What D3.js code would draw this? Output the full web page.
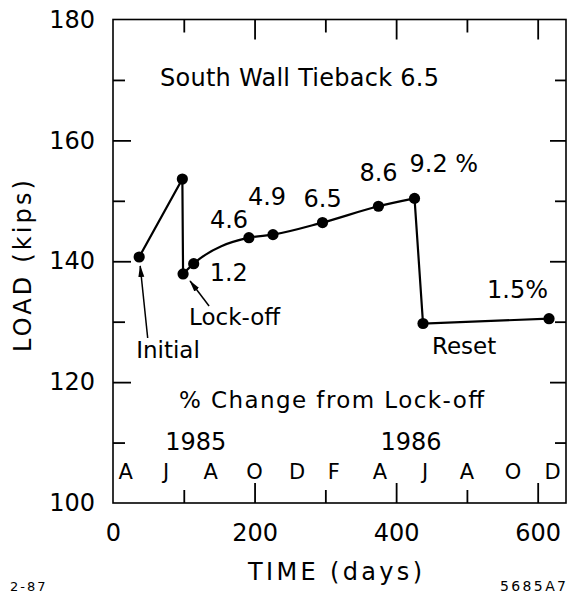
<!DOCTYPE html>
<html><head><meta charset="utf-8">
<script src="https://cdn.jsdelivr.net/npm/d3@7/dist/d3.min.js"></script>
<style>
body{margin:0;background:#fff}
svg{display:block;background:#fff}
text{font-family:"DejaVu Sans",sans-serif;fill:#000}
</style>
</head><body>
<svg id="c" width="571" height="594"></svg>
<script>
// ---- data ----
const days  = [37, 98, 99, 114, 192, 226, 296, 375, 426, 438, 616];
const loads = [140.7, 153.6, 137.9, 139.6, 143.9, 144.4, 146.4, 149.1, 150.4, 129.7, 130.5];
const pctLabels = ["1.2", "4.6", "4.9", "6.5", "8.6", "9.2 %", "1.5%"];
const pctPointIndex = [3, 4, 5, 6, 7, 8, 10];
const monthLabels = ["A","J","A","O","D","F","A","J","A","O","D"];
const monthDays = [18, 75, 138, 200, 260, 312, 377, 441, 500, 565, 621];
const yearLabels = ["1985", "1986"];
const yearDays = [117, 421];
const xTickValues = [0, 100, 200, 300, 400, 500, 600];
const xLabelValues = [0, 200, 400, 600];
const yTickValues = [110, 120, 130, 140, 150, 160, 170];
const yLabelValues = [100, 120, 140, 160, 180];

// ---- layout ----
const svg = d3.select("#c");
const x = d3.scaleLinear().domain([0, 640]).range([113, 566]);
const y = d3.scaleLinear().domain([100, 180]).range([503, 19.5]);
const L = x.range()[0], R = x.range()[1], T = y.range()[1], B = y.range()[0];

// frame
svg.append("rect").attr("x", L).attr("y", T).attr("width", R - L).attr("height", B - T)
  .attr("fill", "none").attr("stroke", "#000").attr("stroke-width", 1.6);

function tickAxis(axisFn, scale, vals, size, tx, ty) {
  const g = svg.append("g").attr("transform", `translate(${tx},${ty})`)
    .call(axisFn(scale).tickValues(vals).tickSize(size).tickFormat(""));
  g.select(".domain").remove();
  g.selectAll("line").attr("stroke", "#000").attr("stroke-width", 1.8);
  return g;
}
const longX = xTickValues.filter(d => d % 200 === 0 && d > 0);
const shortX = xTickValues.filter(d => d % 200 !== 0);
tickAxis(d3.axisBottom, x, longX, -20, 0, B);
tickAxis(d3.axisBottom, x, shortX, -13, 0, B);
tickAxis(d3.axisTop, x, longX, -20, 0, T);
tickAxis(d3.axisTop, x, shortX, -13, 0, T);
const longY = yTickValues.filter(d => d % 20 === 0);
const shortY = yTickValues.filter(d => d % 20 !== 0);
tickAxis(d3.axisLeft, y, longY, -18, L, 0);
tickAxis(d3.axisLeft, y, shortY, -12, L, 0);
tickAxis(d3.axisRight, y, longY, -16, R, 0);
tickAxis(d3.axisRight, y, shortY, -11, R, 0);

// tick labels via axes
const gx = svg.append("g").attr("transform", `translate(0,${B})`)
  .call(d3.axisBottom(x).tickValues(xLabelValues).tickSize(0).tickPadding(21).tickFormat(d3.format("d")));
gx.select(".domain").remove();
gx.selectAll("text").attr("font-size", 24).attr("font-family", "DejaVu Sans").attr("fill", "#000");

const gy = svg.append("g").attr("transform", `translate(${L},0)`)
  .call(d3.axisLeft(y).tickValues(yLabelValues).tickSize(0).tickPadding(18).tickFormat(d3.format("d")));
gy.select(".domain").remove();
gy.selectAll("text").attr("font-size", 24).attr("font-family", "DejaVu Sans").attr("fill", "#000");

// axis titles
svg.append("text").attr("x", 248).attr("y", 580).attr("font-size", 24)
  .attr("textLength", 174).attr("lengthAdjust", "spacing").text("TIME  (days)");
svg.append("text").attr("transform", "translate(31,352) rotate(-90)").attr("font-size", 24)
  .attr("textLength", 172).attr("lengthAdjust", "spacing").text("LOAD  (kips)");

// months & years
svg.append("g").selectAll("text").data(monthLabels).join("text")
  .attr("x", (d, i) => x(monthDays[i])).attr("y", 479).attr("text-anchor", "middle")
  .attr("font-size", 21).text(d => d);
svg.append("g").selectAll("text").data(yearLabels).join("text")
  .attr("x", (d, i) => x(yearDays[i])).attr("y", 450).attr("text-anchor", "middle")
  .attr("font-size", 24).text(d => d);

// titles inside
svg.append("text").attr("x", 160).attr("y", 86).attr("font-size", 24)
  .attr("textLength", 279).attr("lengthAdjust", "spacing").text("South Wall Tieback 6.5");
svg.append("text").attr("x", 179).attr("y", 408).attr("font-size", 23)
  .attr("textLength", 305).attr("lengthAdjust", "spacing").text("% Change from Lock-off");

// ---- data line ----
const pts = days.map((d, i) => [x(d), y(loads[i])]);
const lineLin = d3.line();
const lineCurve = d3.line().curve(d3.curveMonotoneX);
svg.append("path").attr("d", lineLin(pts.slice(0, 3))).attr("fill", "none").attr("stroke", "#000").attr("stroke-width", 2.2);
svg.append("path").attr("d", lineCurve(pts.slice(2, 9))).attr("fill", "none").attr("stroke", "#000").attr("stroke-width", 2.2);
svg.append("path").attr("d", lineLin(pts.slice(8))).attr("fill", "none").attr("stroke", "#000").attr("stroke-width", 2.2);
svg.append("g").selectAll("circle").data(pts).join("circle")
  .attr("cx", d => d[0]).attr("cy", d => d[1]).attr("r", 5.6).attr("fill", "#000");

// percent labels (offsets relative to their points)
const pctOffsets = [[16, 17], [-39, -10], [-25, -30], [-19, -16], [-19, -25], [-5, -26], [-62, -21]];
svg.append("g").selectAll("text").data(pctLabels).join("text")
  .attr("x", (d, i) => pts[pctPointIndex[i]][0] + pctOffsets[i][0])
  .attr("y", (d, i) => pts[pctPointIndex[i]][1] + pctOffsets[i][1])
  .attr("font-size", 24).text(d => d);

// annotations
const notes = [
  {t: "Initial", i: 0, dx: -3, dy: 101},
  {t: "Lock-off", i: 2, dx: 6, dy: 51},
  {t: "Reset", i: 9, dx: 9, dy: 30}
];
svg.append("g").selectAll("text").data(notes).join("text")
  .attr("x", d => pts[d.i][0] + d.dx).attr("y", d => pts[d.i][1] + d.dy)
  .attr("font-size", 23).text(d => d.t);

svg.append("defs").append("marker").attr("id", "ah").attr("viewBox", "0 0 12 8")
  .attr("refX", 11).attr("refY", 4).attr("markerWidth", 12).attr("markerHeight", 8)
  .attr("markerUnits", "userSpaceOnUse").attr("orient", "auto")
  .append("path").attr("d", "M0,1 L12,4 L0,7 Z").attr("fill", "#000");
const arrows = [
  {i: 0, x1: 8.5, y1: 81, x2: 1, y2: 9},
  {i: 2, x1: 26, y1: 32, x2: 7, y2: 7}
];
svg.append("g").selectAll("line").data(arrows).join("line")
  .attr("x1", d => pts[d.i][0] + d.x1).attr("y1", d => pts[d.i][1] + d.y1)
  .attr("x2", d => pts[d.i][0] + d.x2).attr("y2", d => pts[d.i][1] + d.y2)
  .attr("stroke", "#000").attr("stroke-width", 1.5).attr("marker-end", "url(#ah)");

// corner codes
svg.append("text").attr("x", 10).attr("y", 591).attr("font-size", 13).attr("letter-spacing", 2).text("2-87");
svg.append("text").attr("x", 500).attr("y", 591).attr("font-size", 14)
  .attr("textLength", 66).attr("lengthAdjust", "spacing").text("5685A7");
</script>
</body></html>
